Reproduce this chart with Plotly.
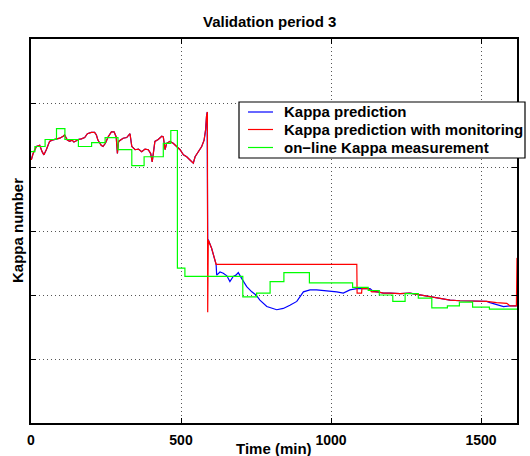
import plotly.graph_objects as go

# Shared prediction (before step change, blue & red coincide)
pre_t = [1, 7, 18, 29, 37, 43, 51, 62, 70, 84, 96, 107, 112, 121, 129, 137, 143, 151, 157, 168,
         179, 188, 201, 212, 218, 223, 234, 240, 248, 257, 268, 277, 284, 288, 292, 307, 319, 330,
         336, 347, 358, 369, 380, 391, 399, 404, 408, 413, 424, 436, 441, 447, 452, 463, 474, 486,
         497, 508, 519, 530, 541, 547, 558, 569, 577, 582, 585, 587]
pre_k = [41.1, 42.1, 43.2, 43.4, 42.4, 41.9, 42.7, 44.0, 44.2, 44.3, 44.5, 44.8, 45.0, 44.2, 44.0,
         44.2, 43.9, 44.1, 44.3, 44.4, 44.6, 45.2, 45.4, 45.4, 45.0, 44.2, 43.4, 43.2, 43.7, 44.7,
         45.5, 45.5, 44.7, 42.1, 44.0, 44.5, 44.6, 45.2, 43.2, 42.7, 42.8, 42.4, 42.8, 42.7, 42.1,
         40.8, 42.7, 44.0, 44.3, 44.8, 44.7, 42.7, 43.7, 44.0, 43.7, 43.2, 42.7, 41.9, 41.6, 41.1,
         40.6, 41.6, 42.4, 43.2, 44.2, 45.8, 47.9, 48.6]

# Kappa prediction (blue) after the step
blue_t = [589, 591, 602, 608, 613, 617, 619, 630, 641, 653, 663, 674, 683, 691, 702, 719, 736, 750,
          763, 786, 819, 841, 863, 886, 908, 930, 952, 986, 1019, 1041, 1063, 1086, 1108, 1119,
          1130, 1140, 1160, 1175, 1197, 1230, 1263, 1297, 1330, 1363, 1397, 1430, 1474, 1519,
          1530, 1552, 1575, 1597, 1619]
blue_k = [28.6, 28.6, 27.3, 26.3, 25.5, 24.8, 23.1, 23.6, 23.4, 23.0, 22.1, 22.9, 23.1, 23.5, 22.6,
          21.3, 20.5, 20.0, 19.2, 18.2, 17.7, 17.9, 18.4, 19.0, 20.5, 20.8, 20.8, 20.7, 20.5, 20.3,
          20.8, 21.0, 21.0, 20.9, 21.0, 20.6, 20.4, 20.3, 20.3, 20.2, 20.3, 20.0, 19.8, 19.5, 19.2,
          19.1, 19.0, 19.0, 18.8, 18.5, 18.2, 18.3, 18.3]

# Kappa prediction with monitoring (red) after the step
red_t = [588, 589, 590, 591, 602, 608, 613, 617, 1086, 1087, 1102, 1103, 1124, 1136, 1158, 1174,
         1197, 1230, 1263, 1297, 1330, 1363, 1397, 1430, 1474, 1519, 1552, 1586, 1597, 1618, 1620]
red_k = [48.6, 17.3, 28.6, 28.6, 27.3, 26.3, 25.5, 24.8, 24.8, 20.3, 20.3, 21.0, 21.0, 20.5, 20.5,
         20.3, 20.3, 20.2, 20.3, 20.0, 19.8, 19.5, 19.2, 19.1, 19.0, 19.0, 18.8, 18.7, 18.3, 18.3, 25.8]

# On-line Kappa measurement (green, step)
meas_t = [0, 13, 47, 85, 113, 158, 202, 247, 290, 336, 377, 441, 466, 488, 513, 706, 752, 797,
          843, 928, 1072, 1124, 1161, 1206, 1247, 1291, 1336, 1388, 1428, 1472, 1528, 1620]
meas_k = [42.4, 43.2, 44.3, 46.0, 44.3, 43.2, 43.8, 44.6, 42.7, 40.2, 41.6, 43.7, 45.7, 24.2,
          22.9, 19.7, 20.3, 22.1, 23.5, 21.9, 21.2, 20.7, 20.0, 19.0, 20.2, 19.5, 18.0, 18.3,
          18.9, 18.1, 17.8, 17.8]

series_names = ["Kappa prediction", "Kappa prediction with monitoring",
                "on\u2212line Kappa measurement"]
series_colors = ["#0000ff", "#ff0000", "#00ff00"]

FONT = "Liberation Sans, Arial, Helvetica, sans-serif"

fig = go.Figure()
fig.add_trace(go.Scatter(x=pre_t + blue_t, y=pre_k + blue_k, mode="lines",
                         line=dict(color=series_colors[0], width=1.2), name=series_names[0]))
fig.add_trace(go.Scatter(x=pre_t + red_t, y=pre_k + red_k, mode="lines",
                         line=dict(color=series_colors[1], width=1.2), name=series_names[1]))
fig.add_trace(go.Scatter(x=meas_t, y=meas_k, mode="lines", line_shape="hv",
                         line=dict(color=series_colors[2], width=1.2), name=series_names[2]))

axis_common = dict(showline=True, linecolor="black", linewidth=1.5, mirror="ticks",
                   ticks="inside", ticklen=5, tickcolor="black", showgrid=True,
                   gridcolor="#555555", griddash="1px,3px", gridwidth=1, zeroline=False,
                   automargin=False)

# plot area geometry (pixels) for a legend box drawn in paper coordinates
L, T, W, H = 31, 39, 486, 384
def px(xp):
    return (xp - L) / W
def py(yp):
    return (T + H - yp) / H

shapes = [dict(type="rect", xref="paper", yref="paper", x0=px(239), x1=px(525),
               y0=py(158), y1=py(102), line=dict(color="black", width=1.2),
               fillcolor="white", layer="above")]
annotations = []
rows = [112, 129.5, 147.5]
for name, color, row in zip(series_names, series_colors, rows):
    shapes.append(dict(type="line", xref="paper", yref="paper", x0=px(248), x1=px(273),
                       y0=py(row), y1=py(row), line=dict(color=color, width=1.2),
                       layer="above"))
    annotations.append(dict(text="<b>%s</b>" % name, xref="paper", yref="paper",
                            x=px(282), y=py(row), xanchor="left", yanchor="middle",
                            showarrow=False, font=dict(size=15, family=FONT)))

annotations += [
    dict(text="<b>Validation period 3</b>", xref="paper", yref="paper",
         x=0.49, y=1.0, yshift=18, xanchor="center", yanchor="middle",
         showarrow=False, font=dict(size=15, family=FONT)),
    dict(text="<b>Time (min)</b>", xref="paper", yref="paper",
         x=0.5, y=0.0, yshift=-25, xanchor="center", yanchor="middle",
         showarrow=False, font=dict(size=15, family=FONT)),
    dict(text="<b>Kappa number</b>", xref="paper", yref="paper",
         x=0.0, xshift=-14, y=0.5, xanchor="center", yanchor="middle",
         textangle=-90, showarrow=False, font=dict(size=15, family=FONT)),
]

fig.update_layout(
    width=530, height=456,
    margin=dict(l=L, r=530 - L - W, t=T, b=456 - T - H, autoexpand=False),
    paper_bgcolor="white", plot_bgcolor="white",
    font=dict(family=FONT, color="black", size=15),
    xaxis=dict(range=[0, 1620], tick0=0, dtick=500,
               tickfont=dict(size=14, family=FONT, weight="bold"),
               ticklabelstandoff=3, **axis_common),
    yaxis=dict(range=[0, 60], tick0=0, dtick=10, showticklabels=False, **axis_common),
    showlegend=False,
    shapes=shapes,
    annotations=annotations,
)

fig.write_html("out.html", config={"displayModeBar": False},
               post_script="document.body.style.margin='0';document.body.style.padding='0';")
